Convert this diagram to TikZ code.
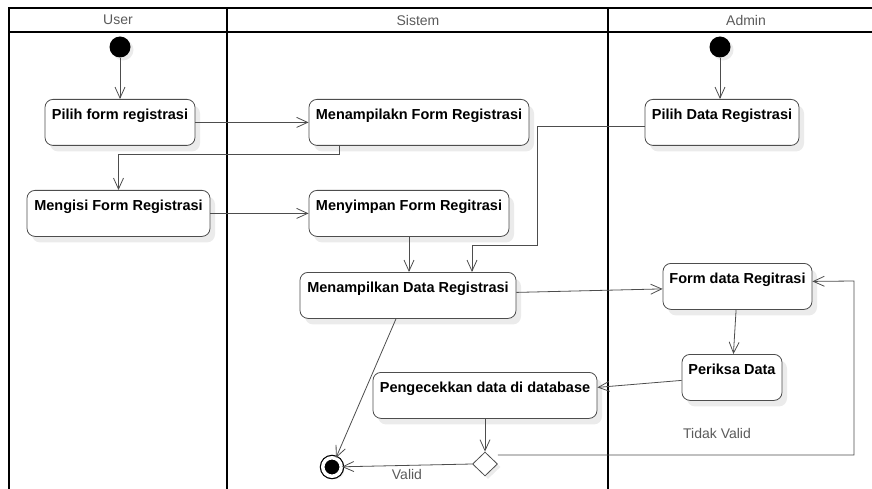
\documentclass[tikz,border=0pt]{standalone}
\usepackage{fontspec}
\setmainfont{Liberation Sans}
\usetikzlibrary{shapes, arrows.meta, positioning, shadows}

\definecolor{garis}{HTML}{4D4D4D}
\definecolor{judul}{HTML}{5A5A5A}

\begin{document}
\begin{tikzpicture}[x=1pt, y=-1pt,
    aksi/.style={draw=garis, rectangle, rounded corners=8pt, fill=white, line width=0.8pt,
        font=\fontsize{14.5}{17}\selectfont\bfseries, inner xsep=3pt, inner ysep=8pt,
        text height=12pt, text depth=18pt, anchor=north,
        drop shadow={shadow xshift=5pt, shadow yshift=-6pt, fill=black!8, opacity=1}},
    mulai/.style={circle, fill=black, minimum size=21pt, inner sep=0pt,
        drop shadow={shadow xshift=3pt, shadow yshift=-3pt, fill=black!8, opacity=1}},
    selesai/.style={circle, draw=black, fill=black, line width=1.2pt, double=white,
        double distance=3.5pt, minimum size=18.5pt, inner sep=0pt,
        drop shadow={shadow xshift=3pt, shadow yshift=-3pt, fill=black!8, opacity=1}},
    cabang/.style={diamond, draw=garis, fill=white, line width=0.8pt, minimum width=25pt,
        minimum height=24pt, inner sep=0pt,
        drop shadow={shadow xshift=3pt, shadow yshift=-3pt, fill=black!8, opacity=1}},
    alur/.style={draw=garis, line width=0.8pt, -{Straight Barb[length=11pt, width=10pt]}},
    lajur/.style={line width=1.6pt},
    judulLajur/.style={text=judul, font=\fontsize{14}{16}\selectfont},
    keterangan/.style={text=judul, font=\fontsize{14}{16}\selectfont}]

    \useasboundingbox (0,0) rectangle (872,489);

    % swimlanes
    \draw[lajur] (9,489) -- (9,8) -- (872,8);
    \draw[lajur] (9,32) -- (872,32);
    \draw[lajur] (227,8) -- (227,489);
    \draw[lajur] (608,8) -- (608,489);
    \node[judulLajur] (lajurUser) at (118,20) {User};
    \node[judulLajur] (lajurSistem) at (418,20) {Sistem};
    \node[judulLajur] (lajurAdmin) at (746,20) {Admin};

    % activities
    \node[mulai] (mulaiUser) at (120,47) {};
    \node[mulai] (mulaiAdmin) at (720,47) {};
    \node[aksi, minimum width=150pt] (pilihForm) at (120,99) {Pilih form registrasi};
    \node[aksi, minimum width=220pt] (tampilForm) at (419,99) {Menampilakn Form Registrasi};
    \node[aksi, minimum width=154pt] (pilihData) at (722,99) {Pilih Data Registrasi};
    \node[aksi, minimum width=183pt] (isiForm) at (118.5,190) {Mengisi Form Registrasi};
    \node[aksi, minimum width=200pt] (simpanForm) at (409,190) {Menyimpan Form Regitrasi};
    \node[aksi, minimum width=216pt] (tampilData) at (408,272) {Menampilkan Data Registrasi};
    \node[aksi, minimum width=149pt] (formData) at (737.5,263) {Form data Regitrasi};
    \node[aksi, minimum width=100pt] (periksa) at (732,354) {Periksa Data};
    \node[aksi, minimum width=224pt] (cekData) at (485,372) {Pengecekkan data di database};
    \node[cabang] (keputusan) at (485,464) {};
    \node[selesai] (akhir) at (332,467) {};
    \node[keterangan] (tidakValid) at (717,433) {Tidak Valid};

    \coordinate (belok) at (537,245);
    \coordinate (balik) at (854,281);

    % flows
    \draw[alur] (mulaiUser) -- (pilihForm);
    \draw[alur] (mulaiAdmin) -- (mulaiAdmin |- pilihData.north);
    \draw[alur] (pilihForm) -- (tampilForm);
    \draw[alur] ([xshift=-80pt]tampilForm.south) -- ++(0,9) -| (isiForm.north);
    \draw[alur] (isiForm) -- (simpanForm);
    \draw[alur] (simpanForm.south) -- (simpanForm.south |- tampilData.north);
    \draw[alur] ([yshift=-4pt]pilihData.west) -| (belok) -| ([xshift=64pt]tampilData.north);
    \draw[alur] ([yshift=3pt]tampilData.east) -- ([yshift=-2.5pt]formData.west);
    \draw[alur] (formData) -- (periksa);
    \draw[alur] ([yshift=-3pt]periksa.west) -- ([yshift=8pt]cekData.east);
    \draw[alur] (cekData.south) -- (cekData.south |- keputusan.north);
    \draw[alur] ([xshift=-12pt]tampilData.south) -- (akhir);
    \draw[alur] (keputusan.west) -- node[below, keterangan] {Valid} (akhir);
    \draw[alur] ([yshift=9pt]keputusan.east) -| (balik) -- ([yshift=5pt]formData.east);
\end{tikzpicture}
\end{document}
